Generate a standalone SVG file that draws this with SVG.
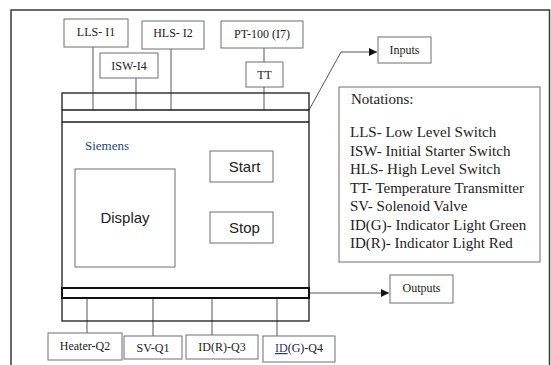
<svg xmlns="http://www.w3.org/2000/svg" width="551" height="365" viewBox="0 0 551 365">
<defs>
<style>
.box{fill:#fff;stroke:#6e6e6e;stroke-width:1}
.t{font-family:"Liberation Serif","Times New Roman",serif;font-size:12px;fill:#222}
.s{font-family:"Liberation Sans",Arial,sans-serif;font-size:15px;fill:#222}
.n{font-family:"Liberation Serif","Times New Roman",serif;font-size:15px;fill:#222}
.body{fill:none;stroke:#1a1a1a;stroke-width:1.3}
.wire{fill:none;stroke:#555;stroke-width:1}
</style>
<marker id="arr" viewBox="0 0 10 10" refX="10" refY="5" markerWidth="8" markerHeight="8" markerUnits="userSpaceOnUse" orient="auto">
<path d="M0,0 L10,5 L0,10 z" fill="#111"/>
</marker>
</defs>
<rect width="551" height="365" fill="#fff"/>
<rect id="frame" x="11" y="10" width="538.5" height="370" fill="none" stroke="#3a3a3a" stroke-width="1.5"/>

<g id="connectors">
<line class="wire" x1="93" y1="47" x2="93" y2="110"/>
<line class="wire" x1="136" y1="78" x2="136" y2="110"/>
<line class="wire" x1="171" y1="49" x2="171" y2="110"/>
<line class="wire" x1="264" y1="48" x2="264" y2="62"/>
<line class="wire" x1="264" y1="87" x2="264" y2="110"/>
<polyline class="wire" points="309,110 341,52 377,52" marker-end="url(#arr)"/>
<line class="wire" x1="310" y1="293" x2="389" y2="293" marker-end="url(#arr)"/>
<line class="wire" x1="87" y1="298" x2="87" y2="333"/>
<line class="wire" x1="153" y1="298" x2="153" y2="336"/>
<line class="wire" x1="212" y1="298" x2="212" y2="335"/>
<line class="wire" x1="277" y1="298" x2="277" y2="336"/>
</g>

<g id="plc">
<rect class="body" x="62" y="93" width="247" height="228"/>
<line class="body" x1="62" y1="110" x2="309" y2="110"/>
<line class="body" x1="62" y1="122" x2="309" y2="122"/>
<rect x="62" y="288" width="247" height="10" fill="none" stroke="#111" stroke-width="2"/>
<text x="85" y="150" font-family="Liberation Serif,serif" font-size="13" fill="#2a4a7a">Siemens</text>
</g>

<g id="display"><rect class="box" x="75" y="169" width="100" height="98"/><text class="s" x="125" y="223" text-anchor="middle">Display</text></g>
<g id="start"><rect class="box" x="210" y="151" width="63" height="31"/><text class="s" x="244.5" y="172" text-anchor="middle">Start</text></g>
<g id="stop"><rect class="box" x="210" y="212" width="63" height="31"/><text class="s" x="244.5" y="233" text-anchor="middle">Stop</text></g>

<g id="lls"><rect class="box" x="64" y="19" width="64" height="28"/><text class="t" x="96" y="36" text-anchor="middle">LLS- I1</text></g>
<g id="hls"><rect class="box" x="142" y="21" width="62" height="28"/><text class="t" x="173" y="37" text-anchor="middle">HLS- I2</text></g>
<g id="isw"><rect class="box" x="100" y="53" width="58" height="25"/><text class="t" x="129" y="70" text-anchor="middle">ISW-I4</text></g>
<g id="pt100"><rect class="box" x="221" y="21" width="82" height="27"/><text class="t" x="262" y="38" text-anchor="middle">PT-100 (I7)</text></g>
<g id="tt"><rect class="box" x="246" y="62" width="37" height="25"/><text class="t" x="264.5" y="79" text-anchor="middle">TT</text></g>

<g id="inputs"><rect class="box" x="378" y="37" width="53" height="26"/><text class="t" x="404.5" y="54" text-anchor="middle">Inputs</text></g>
<g id="outputs"><rect class="box" x="390" y="275" width="63" height="28"/><text class="t" x="421.5" y="292" text-anchor="middle">Outputs</text></g>

<g id="notations">
<rect class="box" x="339" y="87" width="201" height="175"/>
<text class="n" x="351" y="104" font-size="16">Notations:</text>
<text class="n" x="350" y="137">LLS- Low Level Switch</text>
<text class="n" x="350" y="155.5">ISW- Initial Starter Switch</text>
<text class="n" x="350" y="174">HLS- High Level Switch</text>
<text class="n" x="350" y="192.5">TT- Temperature Transmitter</text>
<text class="n" x="350" y="211">SV- Solenoid Valve</text>
<text class="n" x="350" y="229.5">ID(G)- Indicator Light Green</text>
<text class="n" x="350" y="248">ID(R)- Indicator Light Red</text>
</g>

<g id="heater"><rect class="box" x="48" y="333" width="74" height="27"/><text class="t" x="85" y="350" text-anchor="middle">Heater-Q2</text></g>
<g id="sv"><rect class="box" x="124" y="336" width="58" height="23"/><text class="t" x="153" y="352" text-anchor="middle">SV-Q1</text></g>
<g id="idr"><rect class="box" x="186" y="335" width="72" height="24"/><text class="t" x="222" y="351" text-anchor="middle">ID(R)-Q3</text></g>
<g id="idg"><rect class="box" x="263" y="336" width="72" height="26"/><text class="t" x="275" y="352"><tspan fill="#2a3a8a" text-decoration="underline">ID</tspan>(G)-Q4</text></g>
</svg>
